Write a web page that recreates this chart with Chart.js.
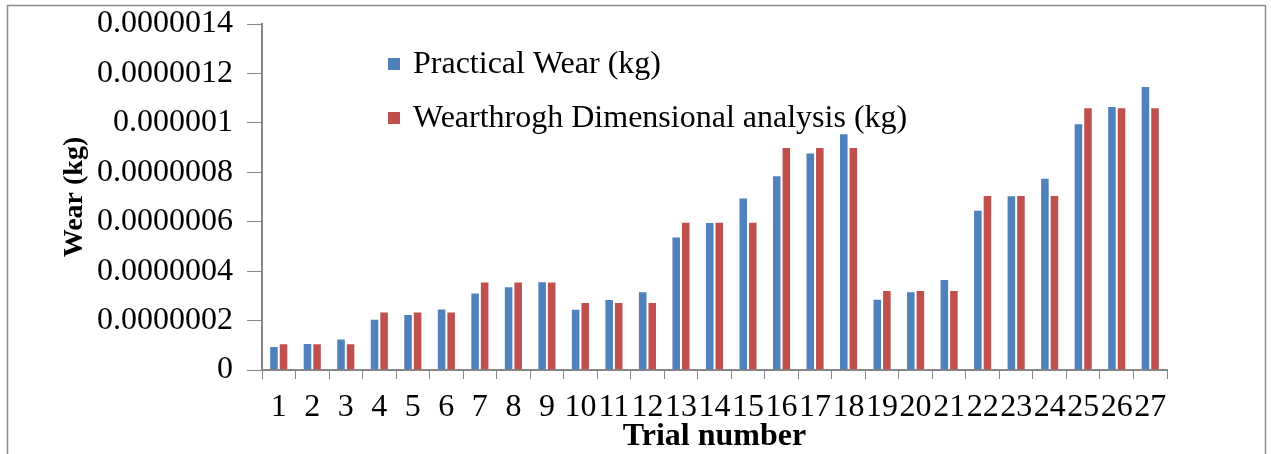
<!DOCTYPE html>
<html>
<head>
<meta charset="utf-8">
<script src="https://cdn.jsdelivr.net/npm/chart.js@4/dist/chart.umd.min.js"></script>
<style>
  html, body { margin:0; padding:0; background:#fff; }
  #wrap { position:relative; width:1271px; height:454px; }
</style>
</head>
<body>
<div id="wrap"><canvas id="chartWear" width="1271" height="454"></canvas></div>
<script>
// Veriler
const trials = ['1','2','3','4','5','6','7','8','9','10','11','12','13','14','15','16','17','18','19','20','21','22','23','24','25','26','27'];
const practicalWear = [
  0.97e-7, 1.09e-7, 1.27e-7, 2.07e-7, 2.27e-7, 2.49e-7, 3.14e-7, 3.39e-7, 3.59e-7,
  2.48e-7, 2.87e-7, 3.19e-7, 5.40e-7, 5.99e-7, 6.98e-7, 7.88e-7, 8.80e-7, 9.58e-7,
  2.88e-7, 3.19e-7, 3.68e-7, 6.48e-7, 7.07e-7, 7.78e-7, 9.98e-7, 10.68e-7, 11.49e-7
];
const dimensionalWear = [
  1.08e-7, 1.08e-7, 1.08e-7, 2.37e-7, 2.37e-7, 2.37e-7, 3.58e-7, 3.58e-7, 3.58e-7,
  2.75e-7, 2.75e-7, 2.75e-7, 6.00e-7, 6.00e-7, 6.00e-7, 9.02e-7, 9.02e-7, 9.02e-7,
  3.24e-7, 3.24e-7, 3.24e-7, 7.08e-7, 7.08e-7, 7.08e-7, 10.63e-7, 10.63e-7, 10.63e-7
];
const seriesLabels = ['Practical Wear (kg)', 'Wearthrogh Dimensional analysis (kg)'];
const yTickLabels = ['0','0.0000002','0.0000004','0.0000006','0.0000008','0.000001','0.0000012','0.0000014'];

const FONT = "'Liberation Serif','Times New Roman',serif";
const FS = 32;
const AXIS = '#868686';

// dış çerçeve
const frame = {
  id:'frame',
  beforeDraw(chart){
    const c = chart.ctx;
    c.save();
    c.strokeStyle = '#8c8c8c'; c.lineWidth = 1.5;
    c.strokeRect(7.5, 5.5, 1258, 470);
    c.restore();
  }
};

// lejant — grafik alanı içinde, sol üst
const legendBox = {
  id:'legendBox',
  afterDraw(chart){
    const c = chart.ctx;
    c.save();
    c.font = FS + 'px ' + FONT;
    c.textBaseline = 'middle';
    chart.data.datasets.forEach((ds, i) => {
      const y = 64 + i * 54;
      c.fillStyle = ds.backgroundColor;
      c.fillRect(388, y - 6, 12, 12);
      c.fillStyle = '#000';
      c.fillText(ds.label, 413, y + 1);
    });
    c.restore();
  }
};

new Chart(document.getElementById('chartWear'), {
  type:'bar',
  data:{
    labels: trials,
    datasets:[
      {label:seriesLabels[0], data:practicalWear, backgroundColor:'#4F81BD', borderColor:'rgba(255,255,255,0.35)', borderWidth:1, barPercentage:1, categoryPercentage:0.57},
      {label:seriesLabels[1], data:dimensionalWear, backgroundColor:'#C0504D', borderColor:'rgba(255,255,255,0.35)', borderWidth:1, barPercentage:1, categoryPercentage:0.57}
    ]
  },
  options:{
    responsive:false, animation:false,
    layout:{padding:{left:0, top:24, right:104, bottom:0}},
    plugins:{legend:{display:false}, tooltip:{enabled:false}},
    scales:{
      x:{
        grid:{display:true, drawOnChartArea:false, color:AXIS, tickLength:9, offset:true},
        border:{color:AXIS, width:2},
        ticks:{autoSkip:false, maxRotation:0, color:'#000', font:{family:FONT, size:FS}, padding:9},
        title:{display:true, text:'Trial number', color:'#000', font:{family:FONT, size:FS, weight:'bold'}, padding:{top:-10, bottom:-2}},
        afterFit(s){ s.height = 84; s.paddingLeft = 0; s.paddingRight = 0; }
      },
      y:{
        min:0, max:1.4e-6,
        ticks:{stepSize:2e-7, color:'#000', font:{family:FONT, size:FS}, padding:14,
          callback:(v, i) => yTickLabels[i]},
        grid:{display:true, drawOnChartArea:false, color:AXIS, tickLength:15},
        border:{color:AXIS, width:2},
        title:{display:true, text:'Wear (kg)', color:'#000', font:{family:FONT, size:28, weight:'bold'}, padding:{top:58, bottom:0}},
        afterFit(s){ s.width = 262; s.paddingTop = 0; s.paddingBottom = 0; }
      }
    }
  },
  plugins:[frame, legendBox]
});
</script>
</body>
</html>
